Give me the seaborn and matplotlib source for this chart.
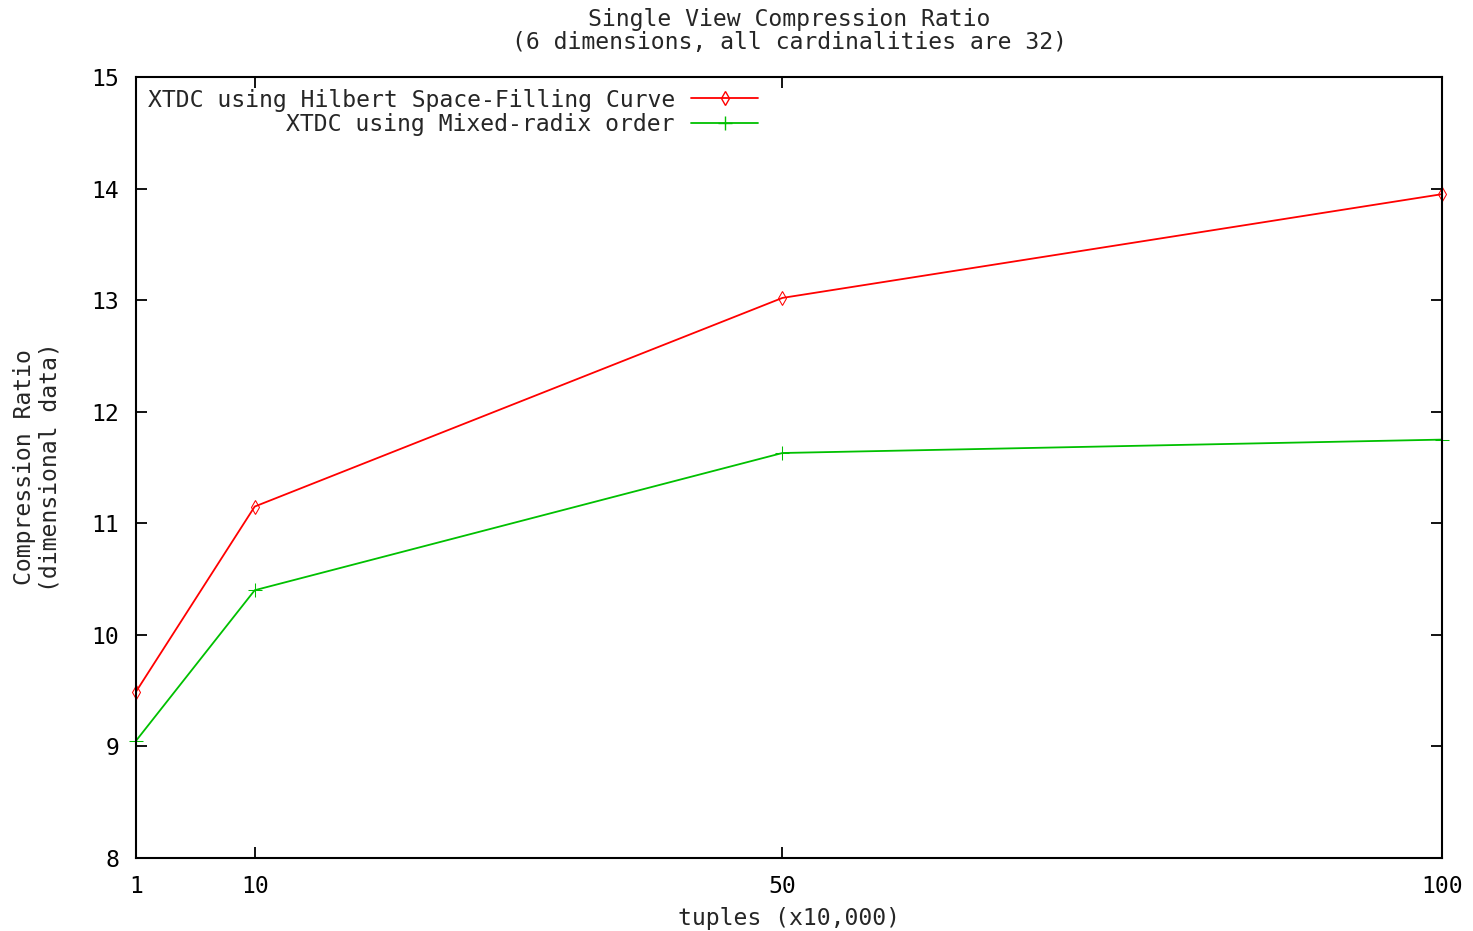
import matplotlib
matplotlib.use("Agg")
import matplotlib.pyplot as plt
import seaborn as sns
import pandas as pd
from matplotlib.lines import Line2D

tuples = [1, 10, 50, 100]
hilbert = [9.49, 11.15, 13.02, 13.95]
mixed = [9.05, 10.40, 11.63, 11.75]
series_names = ["XTDC using Hilbert Space-Filling Curve", "XTDC using Mixed-radix order"]
x_ticks = [1, 10, 50, 100]
y_ticks = [8, 9, 10, 11, 12, 13, 14, 15]

sns.set_theme(style="ticks")
plt.rcParams['font.family'] = ['DejaVu Sans Mono']
FS = 16.7
plt.rcParams['font.size'] = FS

df = pd.DataFrame({
    "tuples": tuples * 2,
    "ratio": hilbert + mixed,
    "series": [series_names[0]] * 4 + [series_names[1]] * 4,
})

fig = plt.figure(figsize=(14.73, 9.31), dpi=100)
ax = fig.add_axes([0.0923, 0.0784, 0.979 - 0.0923, 0.9173 - 0.0784])

sns.lineplot(data=df, x="tuples", y="ratio", hue="series", style="series",
             palette=["#ff0000", "#00c000"], markers=["d", "P"], dashes=False,
             ax=ax, linewidth=1.3, markersize=7, clip_on=False, legend=False)

lines = ax.get_lines()
lines[0].set_marker("d"); lines[0].set_markerfacecolor("none"); lines[0].set_markeredgecolor("#ff0000")
lines[1].set_marker("+"); lines[1].set_markeredgecolor("#00c000"); lines[1].set_markersize(10)

ax.set_xlim(1, 100)
ax.set_ylim(8, 15)
ax.set_xticks(x_ticks)
ax.set_xticklabels([str(t) for t in x_ticks])
ax.set_yticks(y_ticks)
ax.tick_params(direction="in", length=8, width=1.3, top=True, right=True,
               labelsize=FS, pad=12, colors="black")
for s in ax.spines.values():
    s.set_linewidth(1.5)
    s.set_color("black")

ax.set_xlabel("tuples (x10,000)", fontsize=FS, labelpad=7)
ax.set_ylabel("Compression Ratio\n(dimensional data)", fontsize=FS, linespacing=1.15)
ax.yaxis.set_label_coords(-0.057, 0.5)
ax.set_title("Single View Compression Ratio\n(6 dimensions, all cardinalities are 32)",
             fontsize=FS, pad=20, linespacing=1.0)

h = [Line2D([], [], color="#ff0000", marker="d", markerfacecolor="none", lw=1.3, markersize=7),
     Line2D([], [], color="#00c000", marker="+", lw=1.3, markersize=10)]
leg = ax.legend(h, series_names, loc="upper left", bbox_to_anchor=(0.0, 1.0),
                frameon=False, markerfirst=False, fontsize=FS, handlelength=2.9,
                handletextpad=0.7, labelspacing=0.05, borderaxespad=0.3, borderpad=0.2)
leg._legend_box.align = "right"
for t in leg.get_texts():
    t.set_horizontalalignment("right")

fig.savefig("out.png", dpi=100)
